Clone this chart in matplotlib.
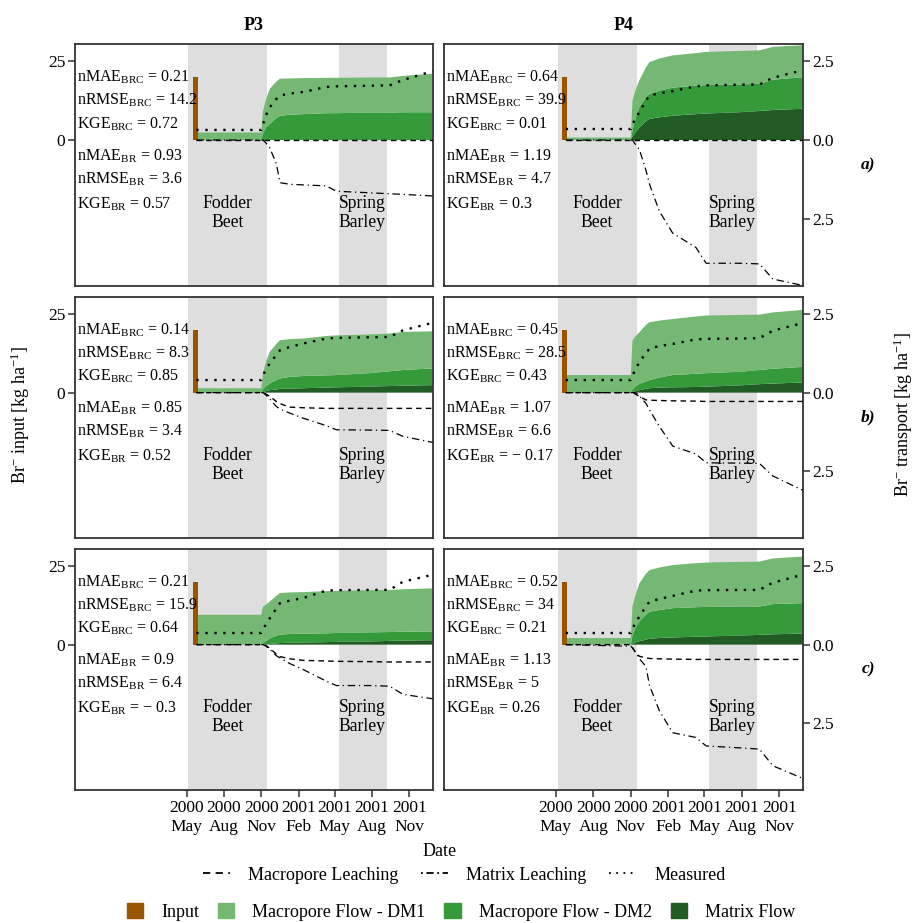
import numpy as np
import pandas as pd
import matplotlib
matplotlib.use("Agg")
import matplotlib.pyplot as plt
import matplotlib.dates as mdates
from matplotlib.lines import Line2D
from matplotlib.patches import Patch

plt.rcParams['font.family'] = ['Liberation Serif', 'DejaVu Serif']
plt.rcParams['mathtext.fontset'] = 'custom'
plt.rcParams['mathtext.rm'] = 'Liberation Serif'
plt.rcParams['mathtext.it'] = 'Liberation Serif:italic'
plt.rcParams['mathtext.bf'] = 'Liberation Serif:bold'

# simulation output dates (shared by all panels)
sim_dates = pd.to_datetime([
    "2000-05-25", "2000-11-01", "2000-11-05", "2000-11-13", "2000-11-22",
    "2000-12-08", "2000-12-17", "2001-01-10", "2001-02-12", "2001-04-10",
    "2001-05-05", "2001-07-26", "2001-09-13", "2001-10-16", "2001-12-28"])

plots = ["P3", "P4"]
scenarios = ["a)", "b)", "c)"]

# bromide application
input_date = pd.Timestamp("2000-05-23")
input_kg = 20.0        # kg/ha, drawn on the input axis (x10 of transport)

# crop periods
crops = [("Fodder\nBeet", "2000-05-05", "2000-11-16", "2000-08-10"),
         ("Spring\nBarley", "2001-05-11", "2001-09-07", "2001-07-08")]

# cumulative recovered bromide per flow domain [kg/ha], key = (scenario, plot)
matrix_flow = {
    ("a)", "P3"): [0, 0, 0, 0, 0, 0, 0, 0, 0, 0, 0, 0, 0, 0, 0],
    ("a)", "P4"): [0, 0, 0.10, 0.25, 0.40, 0.60, 0.67, 0.72, 0.77, 0.82, 0.84, 0.88, 0.92, 0.95, 0.99],
    ("b)", "P3"): [0, 0, 0.02, 0.05, 0.08, 0.10, 0.12, 0.13, 0.14, 0.16, 0.17, 0.19, 0.21, 0.22, 0.24],
    ("b)", "P4"): [0, 0, 0.02, 0.05, 0.08, 0.12, 0.14, 0.16, 0.17, 0.18, 0.19, 0.23, 0.27, 0.29, 0.32],
    ("c)", "P3"): [0, 0, 0, 0.01, 0.02, 0.04, 0.05, 0.06, 0.07, 0.08, 0.09, 0.10, 0.12, 0.13, 0.14],
    ("c)", "P4"): [0, 0, 0.03, 0.07, 0.11, 0.16, 0.19, 0.21, 0.23, 0.25, 0.26, 0.29, 0.31, 0.33, 0.35],
}
macro_dm2 = {
    ("a)", "P3"): [0, 0, 0.20, 0.40, 0.51, 0.70, 0.77, 0.80, 0.82, 0.85, 0.85, 0.87, 0.87, 0.88, 0.88],
    ("a)", "P4"): [0, 0, 0.20, 0.45, 0.64, 0.75, 0.79, 0.84, 0.89, 0.90, 0.90, 0.88, 0.86, 0.96, 1.00],
    ("b)", "P3"): [0, 0, 0.08, 0.15, 0.22, 0.30, 0.33, 0.37, 0.39, 0.39, 0.39, 0.43, 0.47, 0.50, 0.53],
    ("b)", "P4"): [0, 0, 0.08, 0.15, 0.20, 0.24, 0.26, 0.32, 0.39, 0.42, 0.43, 0.43, 0.45, 0.47, 0.50],
    ("c)", "P3"): [0, 0, 0.05, 0.11, 0.18, 0.24, 0.27, 0.28, 0.28, 0.28, 0.28, 0.29, 0.28, 0.28, 0.28],
    ("c)", "P4"): [0, 0, 0.27, 0.48, 0.63, 0.79, 0.86, 0.89, 0.93, 0.94, 0.94, 0.92, 0.90, 0.96, 0.97],
}
macro_dm1 = {
    ("a)", "P3"): [0.24, 0.24, 0.70, 0.90, 1.11, 1.15, 1.17, 1.15, 1.14, 1.12, 1.12, 1.11, 1.11, 1.15, 1.22],
    ("a)", "P4"): [0.08, 0.08, 0.95, 0.90, 0.85, 0.95, 1.01, 1.02, 1.02, 1.03, 1.05, 1.06, 1.06, 1.04, 1.01],
    ("b)", "P3"): [0.14, 0.14, 0.50, 0.80, 1.00, 1.15, 1.22, 1.20, 1.19, 1.25, 1.26, 1.23, 1.20, 1.21, 1.18],
    ("b)", "P4"): [0.56, 0.56, 1.56, 1.60, 1.64, 1.79, 1.84, 1.81, 1.78, 1.82, 1.83, 1.81, 1.76, 1.79, 1.81],
    ("c)", "P3"): [0.95, 0.95, 1.16, 1.16, 1.17, 1.27, 1.32, 1.32, 1.32, 1.34, 1.34, 1.34, 1.34, 1.35, 1.37],
    ("c)", "P4"): [0.21, 0.21, 0.91, 1.05, 1.21, 1.30, 1.32, 1.35, 1.37, 1.40, 1.41, 1.42, 1.43, 1.45, 1.48],
}
# measured cumulative recovery
measured = {
    ("a)", "P3"): [0.32, 0.32, 0.50, 0.80, 1.04, 1.30, 1.41, 1.47, 1.52, 1.68, 1.70, 1.72, 1.73, 1.90, 2.18],
    ("a)", "P4"): [0.35, 0.35, 0.50, 0.70, 0.88, 1.25, 1.41, 1.48, 1.55, 1.70, 1.73, 1.75, 1.76, 1.97, 2.21],
    ("b)", "P3"): [0.40, 0.40, 0.55, 0.75, 0.93, 1.20, 1.35, 1.45, 1.56, 1.72, 1.74, 1.76, 1.77, 1.98, 2.22],
    ("b)", "P4"): [0.40, 0.40, 0.55, 0.75, 0.98, 1.25, 1.40, 1.48, 1.55, 1.69, 1.71, 1.72, 1.73, 1.97, 2.21],
    ("c)", "P3"): [0.37, 0.37, 0.50, 0.65, 0.84, 1.15, 1.32, 1.40, 1.48, 1.72, 1.73, 1.74, 1.74, 2.00, 2.22],
    ("c)", "P4"): [0.37, 0.37, 0.50, 0.70, 0.90, 1.20, 1.37, 1.45, 1.55, 1.72, 1.73, 1.74, 1.74, 1.97, 2.22],
}
# simulated leaching below the profile (negative = downward)
macro_leach = {
    ("a)", "P3"): [0, 0, 0, 0, 0, 0, 0, 0, 0, 0, 0, 0, 0, 0, 0],
    ("a)", "P4"): [0, 0, 0, 0, 0, 0, 0, 0, 0, 0, 0, 0, 0, 0, 0],
    ("b)", "P3"): [0, 0, 0, -0.05, -0.12, -0.28, -0.35, -0.46, -0.48, -0.50, -0.50, -0.50, -0.50, -0.50, -0.50],
    ("b)", "P4"): [0, 0, 0, -0.05, -0.12, -0.23, -0.24, -0.25, -0.26, -0.27, -0.28, -0.28, -0.28, -0.28, -0.28],
    ("c)", "P3"): [0, 0, 0, -0.03, -0.12, -0.30, -0.38, -0.45, -0.50, -0.52, -0.53, -0.54, -0.55, -0.55, -0.55],
    ("c)", "P4"): [0, 0, -0.10, -0.25, -0.37, -0.42, -0.44, -0.45, -0.46, -0.47, -0.47, -0.47, -0.47, -0.47, -0.47],
}
matrix_leach = {
    ("a)", "P3"): [0, 0, 0, -0.10, -0.25, -0.75, -1.35, -1.40, -1.42, -1.45, -1.62, -1.67, -1.70, -1.72, -1.77],
    ("a)", "P4"): [0, 0, 0, -0.15, -0.30, -0.95, -1.40, -2.25, -2.95, -3.40, -3.90, -3.90, -3.92, -4.40, -4.60],
    ("b)", "P3"): [0, 0, 0, -0.08, -0.20, -0.44, -0.52, -0.65, -0.81, -1.05, -1.18, -1.19, -1.20, -1.39, -1.58],
    ("b)", "P4"): [0, 0, 0, 0, -0.10, -0.34, -0.55, -1.07, -1.70, -1.95, -2.23, -2.24, -2.25, -2.65, -3.10],
    ("c)", "P3"): [0, 0, 0, -0.05, -0.15, -0.35, -0.42, -0.60, -0.79, -1.16, -1.30, -1.30, -1.32, -1.58, -1.72],
    ("c)", "P4"): [0, -0.05, -0.10, -0.25, -0.45, -0.69, -1.30, -2.10, -2.80, -2.95, -3.22, -3.28, -3.32, -3.85, -4.25],
}

# goodness of fit: nMAE, nRMSE, KGE for BRC and BR
stats = {
    ("a)", "P3"): ["0.21", "14.2", "0.72", "0.93", "3.6", "0.57"],
    ("a)", "P4"): ["0.64", "39.9", "0.01", "1.19", "4.7", "0.3"],
    ("b)", "P3"): ["0.14", "8.3", "0.85", "0.85", "3.4", "0.52"],
    ("b)", "P4"): ["0.45", "28.5", "0.43", "1.07", "6.6", "\u2212 0.17"],
    ("c)", "P3"): ["0.21", "15.9", "0.64", "0.9", "6.4", "\u2212 0.3"],
    ("c)", "P4"): ["0.52", "34", "0.21", "1.13", "5", "0.26"],
}
stat_names = [r"nMAE$_{\rm BRC}$", r"nRMSE$_{\rm BRC}$", r"KGE$_{\rm BRC}$",
              r"nMAE$_{\rm BR}$", r"nRMSE$_{\rm BR}$", r"KGE$_{\rm BR}$"]
stat_y = [1.99, 1.25, 0.51, -0.50, -1.24, -2.02]

col_input = "#995400"
col_dm1 = "#74b874"
col_dm2 = "#349a3a"
col_matrix = "#215c24"
col_crop = "#dedede"
frame = "#333333"

xmin, xmax = pd.Timestamp("1999-07-31"), pd.Timestamp("2001-12-29")
ymin, ymax = -4.62, 3.04
xticks = pd.to_datetime(["2000-05-01", "2000-08-01", "2000-11-01", "2001-02-01",
                         "2001-05-01", "2001-08-01", "2001-11-01"])

W, H = 914, 923
fig = plt.figure(figsize=(W / 100, H / 100), dpi=100)

col_x = [75, 444]
col_w = [358, 359]
row_top = [44, 297, 549]
row_h = [242, 241, 241]

for r, sc in enumerate(scenarios):
    for c, p in enumerate(plots):
        ax = fig.add_axes([col_x[c] / W, 1 - (row_top[r] + row_h[r]) / H,
                           col_w[c] / W, row_h[r] / H])
        key = (sc, p)

        for name, start, end, mid in crops:
            ax.axvspan(pd.Timestamp(start), pd.Timestamp(end), color=col_crop, lw=0, zorder=0)
            ax.text(pd.Timestamp(mid), -2.3, name, ha="center", va="center",
                    fontsize=12.7, linespacing=1.15, zorder=1)

        ax.stackplot(sim_dates, matrix_flow[key], macro_dm2[key], macro_dm1[key],
                     colors=[col_matrix, col_dm2, col_dm1], lw=0, zorder=2)
        ax.bar(input_date, input_kg / 10, width=12, color=col_input, zorder=3)

        ax.plot(sim_dates, macro_leach[key], color="black", lw=1.0,
                ls=(0, (4, 3)), zorder=4)
        ax.plot(sim_dates, matrix_leach[key], color="black", lw=0.9,
                ls=(0, (6, 3, 1, 3)), zorder=4)
        ax.plot(sim_dates, measured[key], color="black", lw=1.7,
                ls=(0, (1, 2.8)), zorder=5)

        for nm, val, yy in zip(stat_names, stats[key], stat_y):
            ax.text(xmin + pd.Timedelta(days=4), yy, nm + " = " + val,
                    ha="left", va="center", fontsize=11.5, zorder=6)

        ax.set_xlim(xmin, xmax)
        ax.set_ylim(ymin, ymax)
        for s in ax.spines.values():
            s.set_color(frame)
            s.set_linewidth(1.3)

        ax.set_xticks(xticks)
        ax.xaxis.set_major_formatter(mdates.DateFormatter("%Y\n%b"))
        if r == 2:
            ax.tick_params(axis="x", length=5, width=1.1, color=frame,
                           labelsize=12.5, pad=2)
            for lab in ax.get_xticklabels():
                lab.set_linespacing(1.3)
        else:
            ax.tick_params(axis="x", length=0, labelbottom=False)

        if c == 0:
            ax.set_yticks([0, 2.5])
            ax.set_yticklabels(["0", "25"])
            ax.tick_params(axis="y", left=True, right=False, length=5, width=1.1,
                           color=frame, labelsize=12.5, pad=2)
        else:
            ax.set_yticks([-2.5, 0, 2.5])
            ax.set_yticklabels(["2.5", "0.0", "2.5"])
            ax.tick_params(axis="y", left=False, labelleft=False, right=True,
                           labelright=True, length=5, width=1.1, color=frame,
                           labelsize=12.5, pad=2)

        if r == 0:
            ax.set_title(p, fontsize=13, fontweight="bold", pad=10)

    fig.text(868 / W, 1 - (row_top[r] + row_h[r] / 2) / H, sc, fontsize=12.5,
             fontweight="bold", fontstyle="italic", ha="center", va="center")

fig.text(20 / W, 1 - 415 / H, r"Br$^{-}$ input [kg ha$^{-1}$]", rotation=90,
         ha="center", va="center", fontsize=13)
fig.text(903 / W, 1 - 415 / H, r"Br$^{-}$ transport [kg ha$^{-1}$]", rotation=90,
         ha="center", va="center", fontsize=13)
fig.text(440 / W, 1 - 852 / H, "Date", ha="center", va="center", fontsize=13)

line_handles = [Line2D([], [], color="black", lw=1.3, ls=(0, (4, 3))),
                Line2D([], [], color="black", lw=1.3, ls=(0, (1, 2, 4, 2))),
                Line2D([], [], color="black", lw=1.3, ls=(0, (1, 3)))]
fig.legend(line_handles, ["Macropore Leaching", "Matrix Leaching", "Measured"],
           loc="center", bbox_to_anchor=(464 / W, 1 - 875 / H), ncol=3,
           frameon=False, fontsize=13, handlelength=1.5, handletextpad=1.0,
           columnspacing=1.25, borderpad=0)

fill_handles = [Patch(color=col_input), Patch(color=col_dm1),
                Patch(color=col_dm2), Patch(color=col_matrix)]
fig.legend(fill_handles, ["Input", "Macropore Flow - DM1", "Macropore Flow - DM2", "Matrix Flow"],
           loc="center", bbox_to_anchor=(461 / W, 1 - 912 / H), ncol=4,
           frameon=False, fontsize=13, handlelength=0.9, handleheight=0.9,
           handletextpad=1.0, columnspacing=1.05, borderpad=0)

fig.savefig("out.png", dpi=100)
